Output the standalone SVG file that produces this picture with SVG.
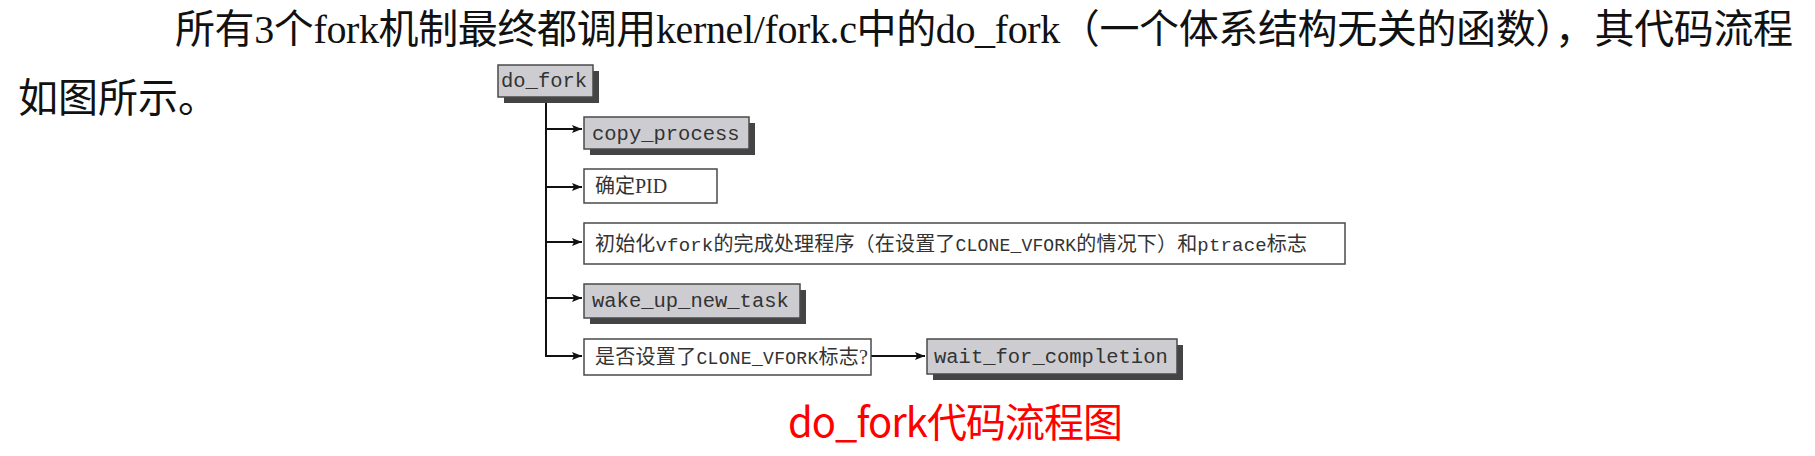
<svg xmlns="http://www.w3.org/2000/svg" width="1815" height="456" viewBox="0 0 1815 456">
<style>
.para{font-family:"Liberation Serif","Noto Sans CJK SC",serif;font-size:40px;fill:#111}
.cap{font-family:"Noto Sans CJK SC","Noto Sans",sans-serif;font-size:40px;fill:#ff0000}
.fn{font-family:"Liberation Mono","DejaVu Sans Mono",monospace;font-size:20.5px;fill:#333}
.cn{font-family:"Liberation Serif","Noto Sans CJK SC",serif;font-size:20px;fill:#333}
.mono{font-family:"Liberation Mono",monospace;font-size:19px}
.sc{font-family:"Liberation Mono",monospace;font-size:18px}
.gbox{fill:#cdcdd1;stroke:#4a4a4a;stroke-width:1.5}
.wbox{fill:#ffffff;stroke:#4a4a4a;stroke-width:1.5}
.shadow{fill:#444444}
.conn{fill:none;stroke:#111;stroke-width:2}
</style>
<defs>
<marker id="arr" viewBox="0 0 10 8" refX="10" refY="4" markerWidth="10" markerHeight="8" markerUnits="userSpaceOnUse" orient="auto">
<path d="M0,0 L10,4 L0,8 L2,4 Z" fill="#111"/>
</marker>
</defs>
<rect width="1815" height="456" fill="#ffffff"/>

<g id="paragraph">
<text class="para" x="175" y="43" textLength="1618" lengthAdjust="spacing">所有3个fork机制最终都调用kernel/fork.c中的do_fork（一个体系结构无关的函数），其代码流程</text>
<text class="para" x="18" y="112">如图所示。</text>
</g>

<g id="connectors">
<path class="conn" d="M546,97 V356 H582" marker-end="url(#arr)"/>
<path class="conn" d="M546,129 H582" marker-end="url(#arr)"/>
<path class="conn" d="M546,187 H582" marker-end="url(#arr)"/>
<path class="conn" d="M546,242 H582" marker-end="url(#arr)"/>
<path class="conn" d="M546,298 H582" marker-end="url(#arr)"/>
<path class="conn" d="M871,356 H925" marker-end="url(#arr)"/>
</g>

<g id="do_fork">
<rect class="shadow" x="504" y="71" width="95" height="32"/>
<rect class="gbox" x="498" y="65" width="95" height="32"/>
<text class="fn" x="501" y="87">do_fork</text>
</g>

<g id="copy_process">
<rect class="shadow" x="590" y="123" width="165" height="32"/>
<rect class="gbox" x="584" y="117" width="165" height="32"/>
<text class="fn" x="592" y="140">copy_process</text>
</g>

<g id="determine_pid">
<rect class="wbox" x="584" y="169" width="133" height="34"/>
<text class="cn" x="595" y="193">确定PID</text>
</g>

<g id="init_vfork">
<rect class="wbox" x="584" y="223" width="761" height="41"/>
<text class="cn" x="595" y="251" textLength="712" lengthAdjust="spacing">初始化<tspan class="mono">vfork</tspan>的完成处理程序（在设置了<tspan class="sc">CLONE_VFORK</tspan>的情况下）和<tspan class="mono">ptrace</tspan>标志</text>
</g>

<g id="wake_up_new_task">
<rect class="shadow" x="590" y="290" width="216" height="34"/>
<rect class="gbox" x="584" y="284" width="216" height="34"/>
<text class="fn" x="592" y="307">wake_up_new_task</text>
</g>

<g id="check_vfork">
<rect class="wbox" x="584" y="339" width="287" height="36"/>
<text class="cn" x="595" y="364" textLength="273" lengthAdjust="spacing">是否设置了<tspan class="sc">CLONE_VFORK</tspan>标志?</text>
</g>

<g id="wait_for_completion">
<rect class="shadow" x="933" y="345" width="250" height="35"/>
<rect class="gbox" x="927" y="339" width="250" height="35"/>
<text class="fn" x="934" y="363">wait_for_completion</text>
</g>

<g id="caption">
<text class="cap" x="788" y="437" textLength="335" lengthAdjust="spacing">do_fork代码流程图</text>
</g>
</svg>
